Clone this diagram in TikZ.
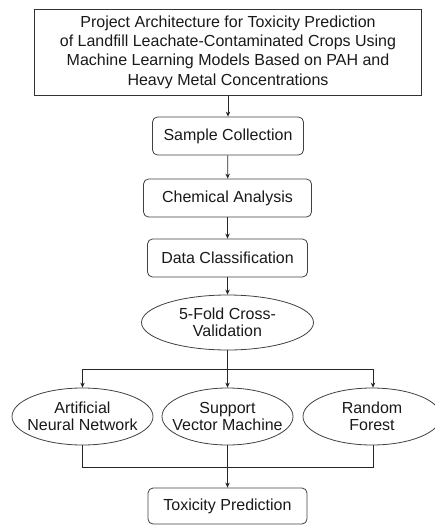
\documentclass[tikz,border=0pt]{standalone}
\usepackage{fontspec}
\setmainfont{Liberation Sans}
\usetikzlibrary{arrows.meta,shapes.geometric}
\begin{document}
\begin{tikzpicture}[x=1pt,y=-1pt,
  every node/.style={font=\fontsize{16}{17.5}\selectfont, inner sep=0pt, align=center, text=black!90},
  line/.style={draw=black!85, line width=0.8pt},
  arr/.style={line, -{Stealth[length=5pt,width=4.5pt]}},
  titlebox/.style={draw=black!80, line width=1pt, rectangle, font=\fontsize{16}{19.3}\selectfont},
  stepbox/.style={draw=black!75, line width=0.8pt, rectangle, rounded corners=5pt},
  % negative separation keeps the oval at its minimum size around the text
  oval/.style={draw=black!75, line width=0.8pt, ellipse, inner xsep=-30pt, inner ysep=-15pt}]
\useasboundingbox (0,0) rectangle (435,525);

% title
\node[titlebox, minimum width=387pt, minimum height=86pt] (title) at (228,52)
  {Project Architecture for Toxicity Prediction\\
   of Landfill Leachate-Contaminated Crops Using\\
   Machine Learning Models Based on PAH and\\
   Heavy Metal Concentrations};

% processing steps
\node[stepbox, minimum width=151pt, minimum height=38pt] (sample) at (228,136) {Sample Collection};
\node[stepbox, minimum width=168pt, minimum height=38pt] (chem) at (227.5,198) {Chemical Analysis};
\node[stepbox, minimum width=160pt, minimum height=38pt] (data) at (227.5,258) {Data Classification};
\node[oval, minimum width=172pt, minimum height=55pt] (cv) at (227.5,322.5) {5-Fold Cross-\\Validation};

% models
\node[oval, minimum width=141pt, minimum height=57pt] (ann) at (82.5,416.5) {Artificial\\Neural Network};
\node[oval, minimum width=131pt, minimum height=57pt] (svm) at (227.5,416.5) {Support\\Vector Machine};
\node[oval, minimum width=138pt, minimum height=57pt] (rf) at (372,416.5) {Random\\Forest};

% result
\node[stepbox, minimum width=159pt, minimum height=36pt] (tox) at (227.5,506) {Toxicity Prediction};

% linear chain
\draw[arr] (title.south) -- (sample.north);
\draw[arr] (sample) -- (chem);
\draw[arr] (chem) -- (data);
\draw[arr] (data) -- (cv);

% fan out to the models
\coordinate (splitL) at (82.5,369);
\coordinate (splitR) at (373,369);
\draw[arr] (cv.south) -- (svm.north);
\draw[line] (splitL) -- (splitR);
\draw[arr] (splitL) -- (ann.north);
\draw[arr] (splitR) -- (splitR |- rf.north);

% merge to the prediction
\coordinate (joinL) at (82.5,467);
\coordinate (joinR) at (373,467);
\draw[line] (ann.south) -- (joinL) -- (joinR) -- (joinR |- rf.south);
\draw[arr] (svm.south) -- (tox.north);
\end{tikzpicture}
\end{document}
